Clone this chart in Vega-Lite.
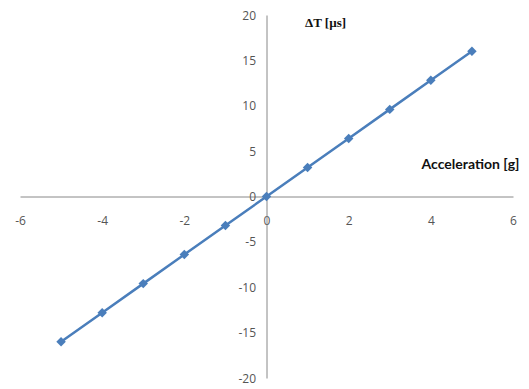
{
  "$schema": "https://vega.github.io/schema/vega-lite/v6.json",
  "width": 493,
  "height": 363,
  "autosize": "none",
  "padding": {"left": 20, "top": 15, "right": 16, "bottom": 11},
  "background": "white",
  "config": {"view": {"stroke": null}},
  "data": {
    "values": [
      {"a": -5, "dt": -16.0},
      {"a": -4, "dt": -12.8},
      {"a": -3, "dt": -9.6},
      {"a": -2, "dt": -6.4},
      {"a": -1, "dt": -3.2},
      {"a": 0, "dt": 0},
      {"a": 1, "dt": 3.2},
      {"a": 2, "dt": 6.4},
      {"a": 3, "dt": 9.6},
      {"a": 4, "dt": 12.8},
      {"a": 5, "dt": 16.0}
    ]
  },
  "mark": {"type": "line", "color": "#4A7EBB", "strokeWidth": 2.5, "point": {"shape": "diamond", "size": 90, "filled": true, "color": "#4A7EBB"}},
  "encoding": {
    "x": {
      "field": "a", "type": "quantitative",
      "scale": {"domain": [-6, 6], "nice": false, "zero": false},
      "axis": {
        "orient": "bottom", "offset": -181.5, "values": [-6, -4, -2, 0, 2, 4, 6],
        "grid": false, "ticks": false, "domainColor": "#888888", "domainWidth": 1,
        "labelExpr": "replace(datum.label, '−', '-')",
        "labelFont": "Open Sans", "labelFontSize": 12, "labelColor": "#555555", "labelPadding": 19,
        "labelFlush": false,
        "title": "Acceleration [g]", "titleFont": "Lato", "titleFontSize": 14, "titleFontWeight": "bold",
        "titleColor": "#111111", "titleX": 450, "titleY": -32, "titleAlign": "center", "titleBaseline": "middle"
      }
    },
    "y": {
      "field": "dt", "type": "quantitative",
      "scale": {"domain": [-20, 20], "nice": false, "zero": false},
      "axis": {
        "orient": "left", "offset": -246.5, "values": [-20, -15, -10, -5, 0, 5, 10, 15, 20],
        "grid": false, "ticks": false, "domainColor": "#888888", "domainWidth": 1,
        "labelExpr": "replace(datum.label, '−', '-')",
        "labelFont": "Open Sans", "labelFontSize": 12, "labelColor": "#555555", "labelPadding": 11,
        "labelFlush": false,
        "title": "ΔT [µs]", "titleFont": "Liberation Serif", "titleFontSize": 13, "titleFontWeight": "bold",
        "titleColor": "#111111", "titleAngle": 0, "titleX": 38, "titleY": 7, "titleAlign": "left", "titleBaseline": "middle"
      }
    }
  }
}
